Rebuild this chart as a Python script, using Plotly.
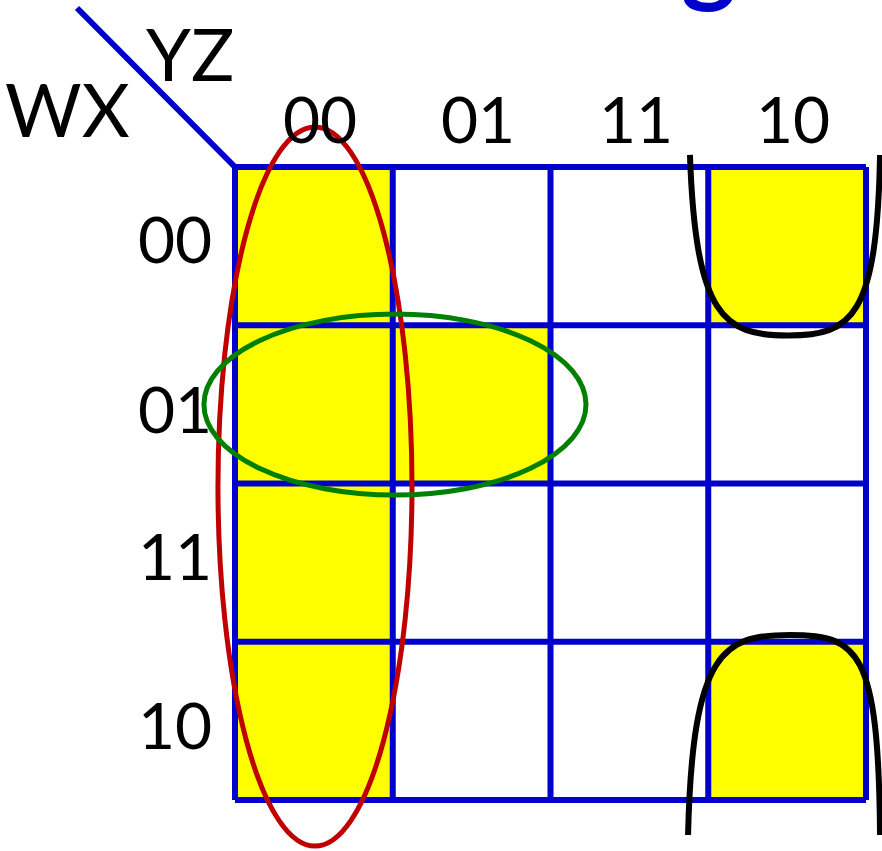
import plotly.graph_objects as go

# K-map data
col_labels = ["00", "01", "11", "10"]   # YZ
row_labels = ["00", "01", "11", "10"]   # WX
kmap = [
    [1, 0, 0, 1],
    [1, 1, 0, 0],
    [1, 0, 0, 0],
    [1, 0, 0, 1],
]

BLUE = "#0000CC"
YELLOW = "#FFFF00"
RED = "#C00000"
GREEN = "#008000"
FONT = "Lato"

# pixel-to-cell mapping (grid origin / cell size)
X0, CW = 235.0, 157.75
Y0, CH = 167.0, 158.25
W, H = 882, 851
# small vertical nudges of the row labels (in cell units)
row_label_nudge = [-0.05, 0.025, -0.045, 0.02]

fig = go.Figure()
shapes = []
annotations = []

# yellow cells
for r, row in enumerate(kmap):
    for c, v in enumerate(row):
        if v:
            shapes.append(dict(type="rect", xref="x", yref="y", x0=c, x1=c + 1, y0=r, y1=r + 1,
                               fillcolor=YELLOW, line=dict(width=0), layer="below"))

# grid lines
n = len(col_labels)
for i in range(n + 1):
    shapes.append(dict(type="line", xref="x", yref="y", x0=i, x1=i, y0=0, y1=n,
                       line=dict(color=BLUE, width=6)))
    shapes.append(dict(type="line", xref="x", yref="y", x0=0, x1=n, y0=i, y1=i,
                       line=dict(color=BLUE, width=6)))

# diagonal header line
shapes.append(dict(type="line", xref="x", yref="y", x0=(77 - X0) / CW, y0=(8 - Y0) / CH, x1=0, y1=0,
                   line=dict(color=BLUE, width=6)))

# groups
shapes.append(dict(type="circle", xref="x", yref="y", x0=-0.108, x1=1.122, y0=-0.253, y1=4.291,
                   line=dict(color=RED, width=5)))
shapes.append(dict(type="circle", xref="x", yref="y", x0=-0.197, x1=2.225, y0=0.929, y1=2.073,
                   line=dict(color=GREEN, width=5)))
shapes.append(dict(type="path", xref="x", yref="y",
                   path="M 2.884,-0.076 C 2.92,0.95 3.10,1.065 3.506,1.065 C 3.91,1.065 4.07,0.95 4.089,-0.076",
                   line=dict(color="black", width=6)))
shapes.append(dict(type="path", xref="x", yref="y",
                   path="M 2.872,4.221 C 2.90,3.05 3.10,2.957 3.518,2.957 C 3.95,2.957 4.08,3.05 4.089,4.221",
                   line=dict(color="black", width=6)))

# labels
for c, lab in enumerate(col_labels):
    annotations.append(dict(x=c + 0.54, y=(118 - Y0) / CH, xref="x", yref="y", text=lab, showarrow=False,
                            font=dict(family=FONT, size=64, color="black"), xanchor="center", yanchor="middle"))
for r, lab in enumerate(row_labels):
    annotations.append(dict(x=(214 - X0) / CW, y=r + 0.5 + row_label_nudge[r], xref="x", yref="y", text=lab,
                            showarrow=False, font=dict(family=FONT, size=64, color="black"),
                            xanchor="right", yanchor="middle"))
annotations.append(dict(x=(67 - X0) / CW, y=(108 - Y0) / CH, xref="x", yref="y", text="WX", showarrow=False,
                        font=dict(family=FONT, size=74, color="black"), xanchor="center", yanchor="middle"))
annotations.append(dict(x=(190 - X0) / CW, y=(53 - Y0) / CH, xref="x", yref="y", text="YZ", showarrow=False,
                        font=dict(family=FONT, size=72, color="black"), xanchor="center", yanchor="middle"))
# clipped title fragment (only its lower part is visible at the top edge)
annotations.append(dict(x=(708 - X0) / CW, y=1 - 17 / H, xref="x", yref="paper", text="<b>g</b>", showarrow=False,
                        font=dict(family=FONT, size=105, color=BLUE), xanchor="center", yanchor="bottom"))

fig.update_layout(
    width=W, height=H,
    margin=dict(l=0, r=0, t=0, b=0),
    paper_bgcolor="white", plot_bgcolor="white",
    xaxis=dict(range=[-X0 / CW, (W - X0) / CW], visible=False, fixedrange=True),
    yaxis=dict(range=[(H - Y0) / CH, -Y0 / CH], visible=False, fixedrange=True),
    shapes=shapes, annotations=annotations, showlegend=False,
)
fig.write_html("out.html", config={"displayModeBar": False},
               post_script="document.body.style.margin='0';document.body.style.overflow='hidden';")
